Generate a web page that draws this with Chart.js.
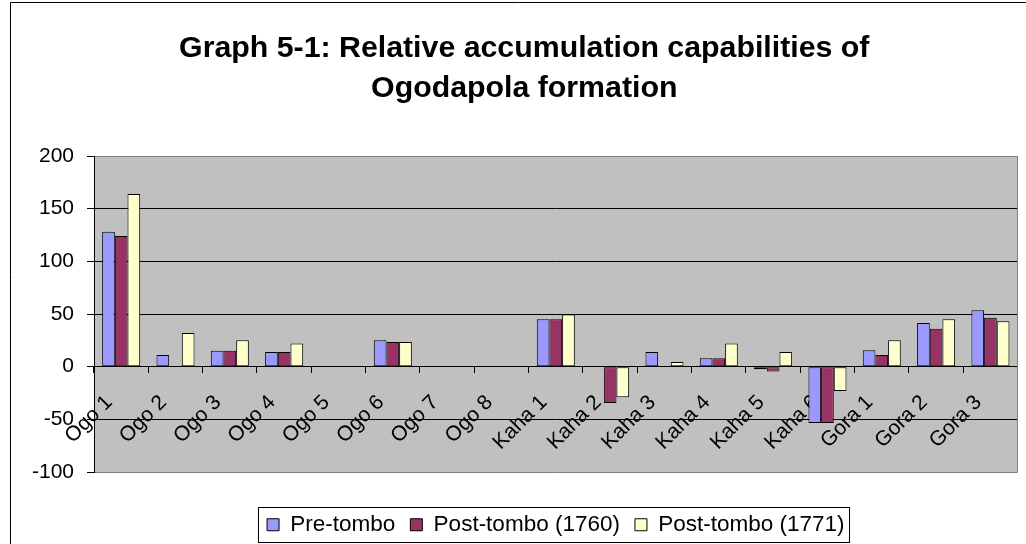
<!DOCTYPE html>
<html><head><meta charset="utf-8">
<style>html,body{margin:0;padding:0;overflow:hidden;background:#fff}#wrap{width:1026px;height:544px;overflow:hidden}canvas{display:block}</style>
<script src="https://cdn.jsdelivr.net/npm/chart.js@4.4.1/dist/chart.umd.min.js"></script>
</head><body><div id="wrap"><canvas id="c" width="1026" height="546"></canvas></div>
<script>
const categories = ['Ogo 1','Ogo 2','Ogo 3','Ogo 4','Ogo 5','Ogo 6','Ogo 7','Ogo 8','Kaha 1','Kaha 2','Kaha 3','Kaha 4','Kaha 5','Kaha 6','Gora 1','Gora 2','Gora 3'];
const seriesNames = ['Pre-tombo','Post-tombo (1760)','Post-tombo (1771)'];
const preTombo = [128, 11, 15, 14, null, 25, null, null, 45, null, 14, 8, -2.5, -53.5, 15.5, 41.5, 53.5];
const post1760 = [124, null, 15, 14, null, 23.5, null, null, 45, -34.5, null, 8, -4.5, -53.5, 11, 36, 46.5];
const post1771 = [164, 32, 25, 22, null, 23.5, null, null, 49.5, -29, 4.5, 22, 14, -23, 25, 45, 43];
const titleLines = ['Graph 5-1: Relative accumulation capabilities of','Ogodapola formation'];

const FONT = '"Liberation Sans", Arial, sans-serif';

const decor = {
  id: 'decor',
  beforeDraw(chart) {
    const {ctx, chartArea: a} = chart;
    ctx.save();
    ctx.fillStyle = '#C0C0C0';
    ctx.fillRect(a.left, a.top, a.right - a.left, a.bottom - a.top);
    ctx.restore();
  },
  afterDatasetsDraw(chart) {
    const {ctx, chartArea: a} = chart;
    ctx.save();
    ctx.strokeStyle = '#808080';
    ctx.lineWidth = 1;
    const xr = Math.round(a.right) - 0.5;
    ctx.beginPath(); ctx.moveTo(xr, a.top); ctx.lineTo(xr, a.bottom); ctx.stroke();
    ctx.restore();
  },
  afterDraw(chart) {
    const {ctx} = chart;
    ctx.save();
    ctx.strokeStyle = '#000';
    ctx.lineWidth = 1;
    ctx.beginPath();
    ctx.moveTo(10.5, 560); ctx.lineTo(10.5, 2.5); ctx.lineTo(1040, 2.5);
    ctx.stroke();
    const hb = chart.legend.legendHitBoxes;
    if (hb && hb.length) {
      let l = Infinity, r = -Infinity, cy = hb[0].top + hb[0].height / 2;
      hb.forEach(b => { l = Math.min(l, b.left); r = Math.max(r, b.left + b.width); });
      const L = Math.round(l - 9) + 0.5, R = Math.round(r + 4) + 0.5;
      const T = Math.round(cy - 17.5) + 0.5, B = Math.round(cy + 17.5) + 0.5;
      ctx.strokeRect(L, T, R - L, B - T);
    }
    ctx.restore();
  }
};

const commonBar = { borderColor: '#000', borderWidth: 1, borderSkipped: false, categoryPercentage: 0.7, barPercentage: 1.0, xAxisID: 'x', yAxisID: 'y' };

new Chart(document.getElementById('c'), {
  type: 'bar',
  data: {
    labels: categories,
    datasets: [
      Object.assign({ label: seriesNames[0], data: preTombo, backgroundColor: '#9999FF' }, commonBar),
      Object.assign({ label: seriesNames[1], data: post1760, backgroundColor: '#993366' }, commonBar),
      Object.assign({ label: seriesNames[2], data: post1771, backgroundColor: '#FFFFCC' }, commonBar)
    ]
  },
  options: {
    responsive: false,
    animation: false,
    devicePixelRatio: 1,
    layout: { padding: { left: 25.5, right: 3, top: 0, bottom: 0 } },
    plugins: {
      title: {
        display: true, text: titleLines, color: '#000',
        font: { family: FONT, size: 30.3, weight: 'bold', lineHeight: 40 / 30.3 },
        padding: { top: 28.3, bottom: 47.7 }
      },
      legend: {
        position: 'bottom', fullSize: false,
        labels: { color: '#000', font: { family: FONT, size: 22.5 }, boxWidth: 12, boxHeight: 12, padding: 15 }
      },
      tooltip: { enabled: false }
    },
    scales: {
      x: {
        type: 'category', position: { y: 0 }, offset: true,
        grid: { display: true, drawOnChartArea: false, drawTicks: true, tickLength: 6, offset: true, color: '#000' },
        border: { display: true, color: '#000', width: 1 },
        ticks: { autoSkip: false, minRotation: 45, maxRotation: 45, labelOffset: -12, padding: 17.5, color: '#000', font: { family: FONT, size: 21 } }
      },
      x2: {
        type: 'category', position: 'bottom',
        grid: { display: false }, border: { display: false }, ticks: { display: false },
        afterFit(s) { s.height = 26.5; }
      },
      y: {
        min: -100, max: 200,
        ticks: { stepSize: 50, padding: 13, color: '#000', font: { family: FONT, size: 21 } },
        grid: {
          color: c => (c.tick && (c.tick.value === 200 || c.tick.value === -100)) ? '#808080' : '#000',
          tickColor: '#000', tickLength: 7, lineWidth: 1
        },
        border: { display: true, color: '#000' },
        afterFit(s) { s.width = 68.5; }
      }
    }
  },
  plugins: [decor]
});
</script>
</body></html>
